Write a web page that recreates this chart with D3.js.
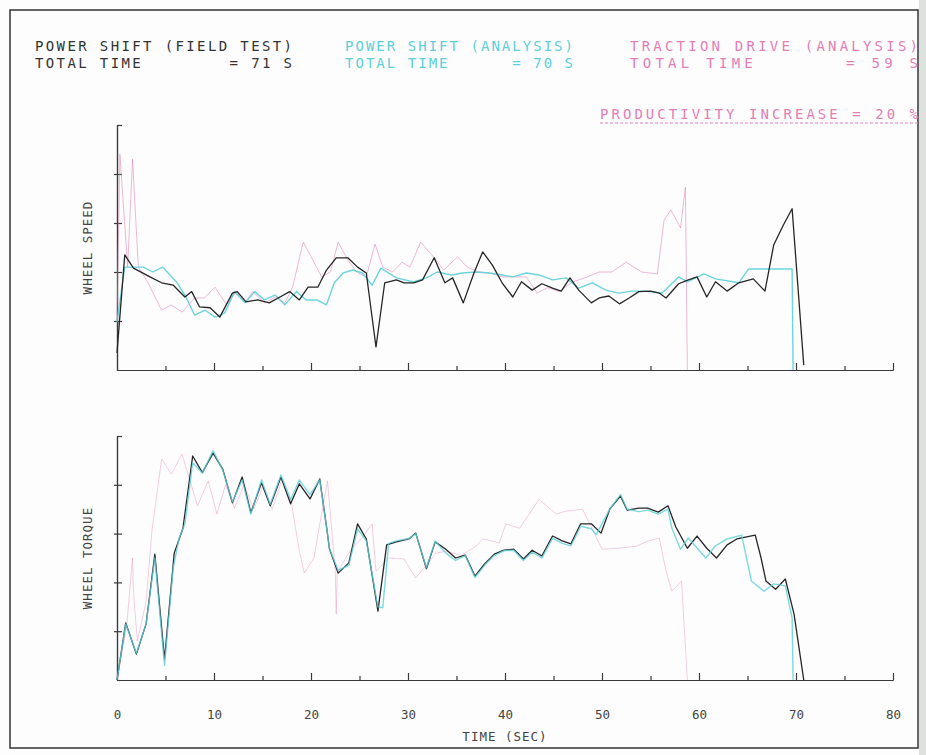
<!DOCTYPE html>
<html>
<head>
<meta charset="utf-8">
<script src="https://cdn.jsdelivr.net/npm/d3@7"></script>
<style>
  body { margin: 0; background: #fff; }
  text { font-family: "DejaVu Sans Mono", "Liberation Mono", monospace; white-space: pre; }
</style>
</head>
<body>
<div id="chart"></div>
<script>
// header texts (one row pair per series)
const fieldHeader = ["POWER SHIFT (FIELD TEST)", "TOTAL TIME        = 71 S"];
const shiftHeader = ["POWER SHIFT (ANALYSIS)", "TOTAL TIME      = 70 S"];
const tractionHeader = ["TRACTION DRIVE (ANALYSIS)", "TOTAL TIME       = 59 S"];
const productivityText = "PRODUCTIVITY INCREASE = 20 %";

const timeTicks = [0, 10, 20, 30, 40, 50, 60, 70, 80];
const minorTicks = [5, 15, 25, 35, 45, 55, 65, 75];
const yTicks = [1, 2, 3, 4, 5];

// wheel speed, [time s, value]
const speedField = [[0,0.35],[0.8,2.35],[1.7,2.08],[3.4,1.9],[4.6,1.78],[5.8,1.73],[7.0,1.49],[7.7,1.6],[8.5,1.29],[9.6,1.27],[10.6,1.08],[11.9,1.57],[12.4,1.6],[13.3,1.39],[14.5,1.43],[15.7,1.37],[16.8,1.49],[17.8,1.6],[18.8,1.43],[19.7,1.69],[20.7,1.69],[21.6,2.04],[22.6,2.29],[23.8,2.29],[24.8,2.1],[25.7,1.98],[26.7,0.47],[27.6,1.78],[28.8,1.84],[29.6,1.78],[30.6,1.78],[31.5,1.84],[32.7,2.29],[33.8,1.78],[34.6,1.88],[35.7,1.37],[36.8,1.98],[37.7,2.41],[38.7,2.14],[39.7,1.78],[40.8,1.49],[41.7,1.8],[42.8,1.63],[43.8,1.76],[44.9,1.67],[45.8,1.61],[46.7,1.88],[47.6,1.63],[48.9,1.37],[49.7,1.47],[50.7,1.51],[51.8,1.35],[52.8,1.47],[53.8,1.6],[55.0,1.61],[55.9,1.57],[56.6,1.47],[57.9,1.76],[58.9,1.84],[59.8,1.9],[60.8,1.49],[61.7,1.8],[62.9,1.61],[64.1,1.78],[65.6,1.86],[66.8,1.61],[67.7,2.55],[68.7,2.96],[69.6,3.29],[70.8,0.1]];
const speedShift = [[0,0.98],[0.8,2.1],[2.7,2.1],[3.7,2.0],[4.7,2.1],[6.2,1.78],[7.0,1.53],[8.0,1.12],[9.1,1.22],[10.1,1.08],[11.1,1.16],[12.1,1.6],[13.2,1.37],[14.2,1.6],[15.2,1.43],[16.3,1.53],[17.3,1.33],[18.5,1.6],[19.5,1.43],[20.6,1.43],[21.6,1.33],[22.4,1.78],[23.3,1.98],[24.3,2.04],[25.3,1.98],[26.3,1.73],[27.2,2.08],[28.8,1.88],[30.5,1.8],[31.9,1.88],[33,2.0],[34.5,1.94],[35.6,1.98],[37,2.0],[38.4,1.98],[39.7,1.94],[40.8,1.9],[42.2,1.98],[43.5,1.94],[44.9,1.84],[46.3,1.88],[47.6,1.67],[49,1.78],[50.4,1.63],[51.7,1.57],[53.1,1.61],[54.5,1.61],[56.2,1.57],[57.9,1.9],[58.8,1.8],[60.5,1.96],[61.7,1.86],[64.1,1.78],[65.1,2.06],[69.6,2.06],[69.7,0]];
const speedTraction = [[0,1.0],[0.3,4.4],[1.1,2.1],[1.6,4.3],[2.2,2.1],[3.2,1.78],[4.6,1.22],[5.6,1.33],[6.7,1.18],[8.0,1.47],[9.0,1.47],[10.1,1.69],[11.3,1.33],[12.3,1.6],[13.2,1.37],[14,1.6],[15.2,1.37],[16.4,1.49],[17.3,1.37],[18.1,1.69],[19.2,2.61],[20.2,2.24],[21.1,1.9],[22.0,2.0],[22.8,2.61],[23.8,2.24],[24.7,2.0],[25.7,1.9],[26.6,2.57],[27.4,2.1],[28.4,2.0],[29.4,2.2],[30.2,2.1],[31.3,2.61],[32.7,2.29],[33.7,2.04],[35.1,2.31],[36.1,2.1],[37.3,2.0],[38.5,1.98],[39.7,1.9],[41,1.9],[42.2,1.9],[43.3,1.57],[44.4,1.68],[45.6,1.6],[47,1.8],[48.5,1.9],[49.7,2.0],[51,2.0],[52.5,2.2],[54.1,2.0],[55.7,1.96],[56.4,3.06],[57.1,3.27],[58.1,2.9],[58.6,3.73],[58.8,0]];

// wheel torque, [time s, value]
const torqueField = [[0,0.0],[0.9,1.17],[2.0,0.53],[3.0,1.15],[3.9,2.58],[4.9,0.43],[5.9,2.6],[6.8,3.11],[7.8,4.59],[8.8,4.25],[9.9,4.65],[10.9,4.32],[11.9,3.63],[12.9,4.16],[13.8,3.43],[14.9,4.04],[15.8,3.57],[16.9,4.16],[17.9,3.61],[18.8,4.02],[19.9,3.71],[20.9,4.12],[21.6,3.14],[21.9,2.69],[22.8,2.19],[23.9,2.4],[24.8,3.2],[25.7,2.89],[26.9,1.41],[27.8,2.77],[28.8,2.83],[30.1,2.89],[30.8,3.01],[31.9,2.28],[32.8,2.83],[33.9,2.68],[34.9,2.5],[35.9,2.56],[36.9,2.13],[37.9,2.38],[38.9,2.58],[39.9,2.66],[40.9,2.68],[41.9,2.48],[42.8,2.66],[43.8,2.54],[44.9,2.95],[45.9,2.85],[46.8,2.79],[47.8,3.2],[48.9,3.2],[49.9,3.01],[50.8,3.5],[51.9,3.77],[52.6,3.48],[53.8,3.52],[54.7,3.52],[55.8,3.44],[56.8,3.57],[57.6,3.14],[58.8,2.7],[59.8,2.95],[60.8,2.7],[61.8,2.5],[62.9,2.77],[63.9,2.89],[65.8,2.97],[66.4,2.5],[66.9,2.03],[67.9,1.86],[68.9,2.07],[69.8,1.35],[70.8,0.0]];
const torqueShift = [[0,0.0],[0.9,1.15],[2.0,0.55],[3.0,1.15],[3.9,2.5],[4.9,0.3],[5.8,2.3],[6.4,2.9],[7.0,3.2],[7.8,4.45],[8.8,4.24],[9.9,4.7],[10.9,4.3],[11.9,3.65],[12.9,4.1],[13.8,3.4],[14.9,4.1],[15.8,3.6],[16.9,4.2],[17.9,3.7],[18.8,4.1],[19.9,3.8],[20.9,4.1],[21.6,3.14],[21.9,2.69],[22.8,2.25],[23.9,2.35],[24.8,3.1],[25.7,2.85],[26.9,1.5],[27.4,1.48],[28.0,2.8],[28.8,2.85],[30.1,2.9],[30.8,3.0],[31.9,2.3],[32.8,2.85],[33.9,2.6],[34.9,2.45],[35.9,2.55],[36.9,2.1],[37.9,2.35],[38.9,2.55],[39.9,2.65],[40.9,2.66],[41.9,2.45],[42.8,2.62],[43.8,2.5],[44.9,2.9],[45.9,2.8],[46.8,2.75],[47.8,3.15],[48.9,3.1],[49.4,2.98],[50.8,3.5],[51.9,3.8],[52.6,3.5],[53.8,3.45],[54.7,3.48],[55.8,3.4],[56.8,3.5],[57.2,3.11],[58.1,2.68],[58.9,2.91],[60.7,2.5],[61.7,2.75],[62.9,2.89],[64.4,2.97],[65.4,2.03],[66.7,1.82],[67.7,1.97],[68.9,1.93],[69.6,1.27],[69.7,0]];
const torqueTraction = [[0,0],[1.0,1.1],[1.6,2.5],[1.7,1.8],[2.1,0.8],[3.0,1.6],[3.6,3.05],[4.6,4.53],[5.6,4.22],[6.7,4.63],[8.3,3.57],[9.4,4.08],[10.3,3.4],[11.2,4.0],[12.1,3.52],[13.1,4.0],[14.1,3.5],[15.0,3.95],[16.0,3.5],[17.0,4.1],[18.0,3.6],[18.8,2.64],[19.3,2.19],[20.3,2.5],[21.0,3.3],[21.7,4.08],[22.5,2.23],[22.6,1.35],[22.7,2.2],[24,2.64],[25.2,2.9],[26.3,3.2],[26.7,2.23],[28,2.5],[29.6,2.48],[30.8,2.09],[32.9,2.6],[34,2.64],[35.5,2.55],[37,2.74],[37.7,2.89],[39.4,2.81],[40.1,3.2],[41.5,3.11],[43.5,3.7],[45.3,3.4],[46.3,3.46],[48,3.5],[50,2.68],[51.7,2.7],[53.5,2.74],[54.8,2.85],[55.9,2.91],[56.6,2.23],[57.2,1.82],[58.2,2.03],[58.8,0]];

const W = 926, H = 755;
const BLACK = "#262626", CYAN = "#5ccfd8", PINK = "#e27db6", AXIS = "#3a3a3a";

const svg = d3.select("#chart").append("svg")
  .attr("width", W).attr("height", H)
  .attr("viewBox", `0 0 ${W} ${H}`);

svg.append("rect").attr("width", W).attr("height", H).attr("fill", "#fdfdfd");
svg.append("rect").attr("x", 919).attr("y", 0).attr("width", 7).attr("height", H).attr("fill", "#dde2de");
svg.append("rect")
  .attr("x", 10).attr("y", 10).attr("width", 908).attr("height", 738)
  .attr("fill", "none").attr("stroke", "#333").attr("stroke-width", 1.5);

const x = d3.scaleLinear().domain([0, 80]).range([117, 893]);
const ySpeed = d3.scaleLinear().domain([0, 5]).range([370, 125]);
const yTorque = d3.scaleLinear().domain([0, 5]).range([680, 436]);

// header
const headers = [
  { rows: fieldHeader, color: "#333", x0: 35, w: 257 },
  { rows: shiftHeader, color: CYAN, x0: 345, w: 228 },
  { rows: tractionHeader, color: PINK, x0: 630, w: 288 }
];
headers.forEach(h => {
  h.rows.forEach((r, i) => {
    svg.append("text")
      .attr("x", h.x0).attr("y", 51 + i * 17)
      .attr("textLength", h.w).attr("lengthAdjust", "spacing")
      .attr("font-size", 14).attr("fill", h.color)
      .text(r);
  });
});
svg.append("text")
  .attr("x", 600).attr("y", 119)
  .attr("textLength", 318).attr("lengthAdjust", "spacing")
  .attr("font-size", 14).attr("fill", PINK)
  .text(productivityText);
svg.append("line")
  .attr("x1", 600).attr("x2", 918).attr("y1", 123).attr("y2", 123)
  .attr("stroke", PINK).attr("stroke-width", 1).attr("stroke-dasharray", "3,2");

function panel(y, label, series) {
  const g = svg.append("g");
  const y0 = y.range()[0];

  // x axis: ticks pointing up
  g.append("g").attr("transform", `translate(0,${y0})`)
    .call(d3.axisTop(x).tickValues(minorTicks).tickSize(4).tickSizeOuter(0).tickFormat(""));
  g.append("g").attr("transform", `translate(0,${y0})`)
    .call(d3.axisTop(x).tickValues(timeTicks.slice(1)).tickSize(7).tickSizeOuter(0).tickFormat(""));
  // y axis
  g.append("g").attr("transform", `translate(${x(0)},0)`)
    .call(d3.axisRight(y).tickValues(yTicks).tickSize(5).tickSizeOuter(0).tickFormat(""));
  g.append("g").attr("transform", `translate(${x(0)},0)`)
    .call(d3.axisLeft(y).tickValues(yTicks.slice(0, 4)).tickSize(3).tickSizeOuter(0).tickFormat(""));
  g.selectAll(".domain, .tick line").attr("stroke", AXIS).attr("stroke-width", 1.2);

  g.append("text")
    .attr("transform", `translate(92,${(y.range()[0] + y.range()[1]) / 2}) rotate(-90)`)
    .attr("text-anchor", "middle").attr("font-size", 12.5)
    .attr("letter-spacing", 1).attr("fill", "#444")
    .text(label);

  const line = d3.line().x(d => x(d[0])).y(d => y(d[1]));
  series.forEach(s => {
    g.append("path").datum(s.data)
      .attr("d", line)
      .attr("fill", "none")
      .attr("stroke", s.color)
      .attr("stroke-width", s.width)
      .attr("stroke-opacity", s.opacity)
      .attr("stroke-linejoin", "round");
  });
}

panel(ySpeed, "WHEEL SPEED", [
  { data: speedTraction, color: PINK, width: 1, opacity: 0.55 },
  { data: speedShift, color: CYAN, width: 1.4, opacity: 0.9 },
  { data: speedField, color: BLACK, width: 1.3, opacity: 1 }
]);
panel(yTorque, "WHEEL TORQUE", [
  { data: torqueTraction, color: PINK, width: 1, opacity: 0.38 },
  { data: torqueField, color: BLACK, width: 1.3, opacity: 1 },
  { data: torqueShift, color: CYAN, width: 1.4, opacity: 0.8 }
]);

// time labels under the lower panel
svg.append("g").attr("transform", `translate(0,${yTorque.range()[0]})`)
  .call(d3.axisBottom(x).tickValues(timeTicks).tickSize(0).tickPadding(30))
  .call(g => g.select(".domain").remove())
  .selectAll("text")
  .attr("font-family", "'DejaVu Sans Mono', monospace")
  .attr("font-size", 12.5).attr("fill", "#444");

svg.append("text")
  .attr("x", 505).attr("y", 741)
  .attr("text-anchor", "middle").attr("font-size", 12.5)
  .attr("letter-spacing", 1).attr("fill", "#444")
  .text("TIME (SEC)");
</script>
</body>
</html>
